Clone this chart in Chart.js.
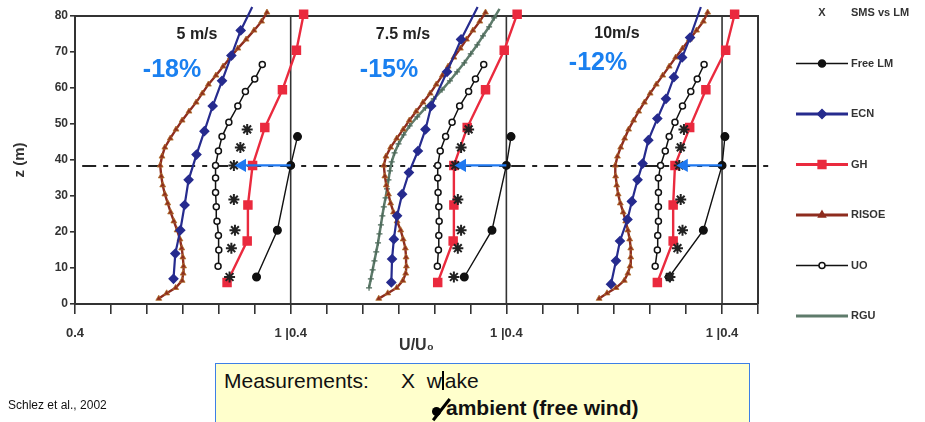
<!DOCTYPE html>
<html><head><meta charset="utf-8">
<script src="https://cdn.jsdelivr.net/npm/chart.js@4.4.0/dist/chart.umd.min.js"></script>
<style>
html,body{margin:0;padding:0;background:#fff;}
#wrap{position:relative;width:925px;height:422px;overflow:hidden;}
#c{position:absolute;left:0;top:0;}
.t{position:absolute;white-space:nowrap;font-family:"Liberation Sans",Arial,sans-serif;color:#111;}
#box{position:absolute;left:215px;top:363px;width:535px;height:80px;background:#ffffcc;border:1.5px solid #3d7fe6;box-sizing:border-box;}
</style></head>
<body><div id="wrap">
<canvas id="c" width="925" height="422"></canvas>
<div id="box"></div>
<div class="t" style="left:224px;top:369px;font-size:21px;">Measurements:</div>
<div class="t" style="left:401px;top:369px;font-size:21px;">X&nbsp;&nbsp;w<span style="display:inline-block;width:2px;height:19px;background:#000;vertical-align:-2px;margin:0 1px 0 0;"></span>ake</div>
<div style="position:absolute;left:432px;top:407px;width:9px;height:9px;border-radius:50%;background:#000;"></div>
<div style="position:absolute;left:440px;top:396px;width:2.5px;height:27px;background:#000;transform:rotate(38deg);"></div>
<div class="t" style="left:446px;top:396px;font-size:21px;font-weight:bold;">ambient (free wind)</div>
<div class="t" style="left:8px;top:398px;font-size:12px;">Schlez et al., 2002</div>
</div>
<script>
// ---------- data ----------
const panelTitles = ['5 m/s', '7.5 m/s', '10m/s'];
const deficits = ['-18%', '-15%', '-12%'];
const legendNames = ['SMS vs LM', 'Free LM', 'ECN', 'GH', 'RISOE', 'UO', 'RGU'];
const yTicks = [0, 10, 20, 30, 40, 50, 60, 70, 80];

const freeZ = [7.5, 20.5, 38.5, 46.5];
const freeU5 = [0.905, 0.963, 1.0, 1.019];
const freeU75 = [0.883, 0.96, 1.0, 1.013];
const freeU10 = [0.853, 0.948, 1.0, 1.008];

const smsZ = [7.5, 15.5, 20.5, 29, 38.5, 43.5, 48.5];
const smsU5 = [0.83, 0.835, 0.845, 0.842, 0.842, 0.86, 0.879];
const smsU75 = [0.854, 0.865, 0.874, 0.865, 0.858, 0.874, 0.895];
const smsU10 = [0.855, 0.876, 0.89, 0.885, 0.881, 0.885, 0.894];

const ghZ = [6, 17.5, 27.5, 38.5, 49, 59.5, 70.5, 80.5];
const ghU5 = [0.823, 0.879, 0.881, 0.894, 0.928, 0.977, 1.016, 1.036];
const ghU75 = [0.809, 0.852, 0.854, 0.854, 0.891, 0.942, 0.994, 1.03];
const ghU10 = [0.82, 0.864, 0.864, 0.869, 0.91, 0.955, 1.01, 1.035];

const uoZ = [10.5, 15, 19, 23, 27, 31, 35, 38.5, 42.5, 46.5, 50.5, 55, 59, 62.5, 66.5];
const uoU5 = [0.798, 0.8, 0.799, 0.795, 0.793, 0.791, 0.791, 0.791, 0.799, 0.809, 0.828, 0.853, 0.874, 0.9, 0.921];
const uoU75 = [0.808, 0.811, 0.812, 0.813, 0.812, 0.81, 0.809, 0.809, 0.816, 0.831, 0.849, 0.87, 0.895, 0.914, 0.937];
const uoU10 = [0.814, 0.82, 0.821, 0.823, 0.823, 0.823, 0.823, 0.829, 0.842, 0.853, 0.869, 0.89, 0.913, 0.931, 0.95];

const ecnZ5 = [7, 14, 20.5, 27.5, 34.5, 41.5, 48, 55, 62, 69, 76, 82.5];
const ecnU5 = [0.674, 0.679, 0.693, 0.705, 0.716, 0.738, 0.76, 0.783, 0.809, 0.835, 0.861, 0.893];
const ecnZ75 = [6, 12.5, 18, 24.5, 30.5, 36.5, 42.5, 48.5, 55, 64.5, 73.5, 82.5];
const ecnU75 = [0.68, 0.682, 0.687, 0.696, 0.71, 0.729, 0.754, 0.775, 0.791, 0.835, 0.874, 0.92];
const ecnZ10 = [5.5, 12, 17.5, 23.5, 28.5, 34.5, 39, 45.5, 51.5, 57, 63, 68.5, 74, 82.5];
const ecnU10 = [0.691, 0.705, 0.716, 0.737, 0.749, 0.765, 0.779, 0.795, 0.82, 0.844, 0.866, 0.889, 0.911, 0.941];

const risoeZ = [1.5, 3, 4.5, 6.5, 8.5, 10.5, 13, 15.5, 18, 20.5, 23, 25.5, 28, 30.5, 33, 35.5, 38.5, 41, 43.5, 46, 48.5, 51, 53.5, 56, 58.5, 61, 63.5, 66, 68.5, 71, 73.5, 76, 78.5, 81];
const risoeU5 = [0.633, 0.655, 0.68, 0.698, 0.701, 0.702, 0.7, 0.697, 0.692, 0.684, 0.675, 0.666, 0.658, 0.65, 0.644, 0.64, 0.637, 0.642, 0.65, 0.665, 0.681, 0.698, 0.717, 0.737, 0.754, 0.771, 0.792, 0.812, 0.832, 0.853, 0.876, 0.898, 0.919, 0.934];
const risoeU75 = [0.645, 0.67, 0.695, 0.712, 0.72, 0.722, 0.721, 0.719, 0.713, 0.706, 0.696, 0.686, 0.678, 0.672, 0.666, 0.662, 0.659, 0.665, 0.678, 0.695, 0.713, 0.73, 0.749, 0.768, 0.788, 0.805, 0.822, 0.838, 0.854, 0.872, 0.889, 0.907, 0.926, 0.942];
const risoeU10 = [0.658, 0.68, 0.705, 0.728, 0.738, 0.744, 0.746, 0.746, 0.743, 0.738, 0.732, 0.725, 0.717, 0.711, 0.707, 0.704, 0.703, 0.709, 0.718, 0.729, 0.74, 0.754, 0.768, 0.784, 0.8, 0.817, 0.835, 0.853, 0.871, 0.89, 0.909, 0.929, 0.948, 0.96];

const rguZ = [4.5, 7, 9.5, 12, 14.5, 17, 19.5, 22, 24.5, 27, 29.5, 32, 34.5, 37, 39.5, 42, 44.5, 47, 49.5, 52, 54.5, 57, 59.5, 62, 64.5, 67, 69.5, 72, 74.5, 77, 79.5, 82];
const rguU75 = [0.618, 0.623, 0.628, 0.633, 0.638, 0.643, 0.647, 0.651, 0.655, 0.659, 0.664, 0.668, 0.672, 0.676, 0.681, 0.689, 0.7, 0.714, 0.731, 0.752, 0.775, 0.798, 0.821, 0.843, 0.863, 0.883, 0.901, 0.919, 0.935, 0.952, 0.966, 0.981];

const hubZ = 38.5;
const arrowU = [[1.0, 0.865], [1.0, 0.877], [1.0, 0.894]];
const refLineZ = 38.3;

// ---------- build ----------
const OFF = [0, 0.6, 1.2];
const pts = (zs, us, k) => zs.map((z, i) => ({x: OFF[k] + us[i] - 0.4, y: z}));
const C = {free:'#111111', ecn:'#262b8e', gh:'#ea2a3e', risoe:'#8e2c1e', uo:'#111111', rgu:'#5e7b6b', sms:'#222222', arrow:'#1f78f0', pct:'#1a80f0'};

const ds = [];
for (let k = 0; k < 3; k++) {
  ds.push({data: pts([hubZ, hubZ], arrowU[k], k), showLine: true, borderColor: C.arrow, borderWidth: 2.2,
    pointRadius: [0, 5.5], pointStyle: 'triangle', pointRotation: 270, pointBackgroundColor: C.arrow, pointBorderColor: C.arrow, clip: false});
}
const sms = [smsU5, smsU75, smsU10];
for (let k = 0; k < 3; k++) ds.push({data: pts(smsZ, sms[k], k), showLine: false, pointStyle: 'star', pointRadius: 5.5, pointBorderWidth: 2, pointBorderColor: C.sms, clip: false});
const free = [freeU5, freeU75, freeU10];
for (let k = 0; k < 3; k++) ds.push({data: pts(freeZ, free[k], k), showLine: true, borderColor: C.free, borderWidth: 1.4, pointStyle: 'circle', pointRadius: 3.8, pointBackgroundColor: C.free, pointBorderColor: C.free, clip: false});
const gh = [ghU5, ghU75, ghU10];
for (let k = 0; k < 3; k++) ds.push({data: pts(ghZ, gh[k], k), showLine: true, borderColor: C.gh, borderWidth: 2.4, pointStyle: 'rect', pointRadius: 5, pointBackgroundColor: C.gh, pointBorderColor: C.gh, clip: false});
const uo = [uoU5, uoU75, uoU10];
for (let k = 0; k < 3; k++) ds.push({data: pts(uoZ, uo[k], k), showLine: true, borderColor: C.uo, borderWidth: 1.5, pointStyle: 'circle', pointRadius: 3, pointBorderWidth: 1.5, pointBackgroundColor: '#ffffff', pointBorderColor: C.uo, clip: false});
const ecnZ = [ecnZ5, ecnZ75, ecnZ10], ecnU = [ecnU5, ecnU75, ecnU10];
for (let k = 0; k < 3; k++) ds.push({data: pts(ecnZ[k], ecnU[k], k), showLine: true, borderColor: C.ecn, borderWidth: 2.2, pointStyle: 'rectRot',
  pointRadius: c => (c.raw && c.raw.y > 81) ? 0 : 3.8, pointBackgroundColor: C.ecn, pointBorderColor: C.ecn, clip: false});
const ris = [risoeU5, risoeU75, risoeU10];
for (let k = 0; k < 3; k++) ds.push({data: pts(risoeZ, ris[k], k), showLine: true, borderColor: C.risoe, borderWidth: 2.4, pointStyle: 'triangle', pointRadius: 3.4, pointBorderWidth: 0.8, pointBackgroundColor: C.risoe, pointBorderColor: '#b0702c', clip: false});
ds.push({data: pts(rguZ, rguU75, 1), showLine: true, borderColor: C.rgu, borderWidth: 2.5, pointStyle: 'cross', pointRadius: 3, pointBorderWidth: 1.2, pointBorderColor: '#4d6a5a', clip: false});
ds.push({data: [{x: 0.02, y: refLineZ}, {x: 1.93, y: refLineZ}], showLine: true, borderColor: '#222', borderWidth: 2, borderDash: [14, 7, 5, 7], pointRadius: 0, clip: false});

const framePlugin = {
  id: 'frame',
  beforeDatasetsDraw(chart) {
    const {ctx, scales: {x, y}} = chart;
    ctx.save();
    ctx.strokeStyle = '#333';
    const top = y.getPixelForValue(80), bot = y.getPixelForValue(0);
    [0.6, 1.2, 1.8].forEach(v => { const px = x.getPixelForValue(v); ctx.lineWidth = 1.6; ctx.beginPath(); ctx.moveTo(px, bot); ctx.lineTo(px, top); ctx.stroke(); });
    ctx.lineWidth = 2;
    ctx.beginPath(); ctx.moveTo(x.getPixelForValue(0), top); ctx.lineTo(x.getPixelForValue(1.9), top); ctx.lineTo(x.getPixelForValue(1.9), bot); ctx.stroke();
    ctx.restore();
  }
};
const textPlugin = {
  id: 'texts',
  afterDraw(chart) {
    const {ctx} = chart;
    const tPos = [[197, 35], [403, 35], [617, 34]];
    const pPos = [[172, 70], [389, 70], [598, 63]];
    ctx.save();
    ctx.textAlign = 'center'; ctx.textBaseline = 'middle';
    ctx.fillStyle = '#222'; ctx.font = 'bold 16px "Liberation Sans", Arial, sans-serif';
    panelTitles.forEach((t, i) => ctx.fillText(t, tPos[i][0], tPos[i][1]));
    ctx.fillStyle = C.pct; ctx.font = 'bold 25px "Liberation Sans", Arial, sans-serif';
    deficits.forEach((t, i) => ctx.fillText(t, pPos[i][0], pPos[i][1]));
    ctx.restore();
  }
};
const legendPlugin = {
  id: 'legendBox',
  afterDraw(chart) {
    const {ctx} = chart;
    const styles = [null,
      {c: C.free, w: 1.5, ps: 'circle', r: 3.5, fill: C.free},
      {c: C.ecn, w: 3, ps: 'rectRot', r: 4.5, fill: C.ecn},
      {c: C.gh, w: 3, ps: 'rect', r: 5.5, fill: C.gh},
      {c: C.risoe, w: 3, ps: 'triangle', r: 4, fill: C.risoe},
      {c: C.uo, w: 1.5, ps: 'circle', r: 3, fill: '#fff'},
      {c: C.rgu, w: 3, ps: null}];
    ctx.save();
    ctx.font = 'bold 11px "Liberation Sans", Arial, sans-serif';
    ctx.textBaseline = 'middle';
    legendNames.forEach((name, i) => {
      const yy = 13 + i * 50.5;
      ctx.fillStyle = '#333'; ctx.textAlign = 'left';
      ctx.fillText(name, 851, yy);
      const s = styles[i];
      if (!s) { ctx.textAlign = 'center'; ctx.fillText('X', 822, yy); return; }
      ctx.strokeStyle = s.c; ctx.lineWidth = s.w;
      ctx.beginPath(); ctx.moveTo(796, yy); ctx.lineTo(848, yy); ctx.stroke();
      if (s.ps) {
        ctx.fillStyle = s.fill; ctx.strokeStyle = s.c; ctx.lineWidth = 1.5;
        Chart.helpers.drawPoint(ctx, {pointStyle: s.ps, radius: s.r, rotation: 0, borderWidth: 1.5}, 822, yy);
      }
    });
    ctx.restore();
  }
};

Chart.defaults.font.family = '"Liberation Sans", Arial, sans-serif';
new Chart(document.getElementById('c'), {
  type: 'scatter',
  data: {datasets: ds},
  options: {
    responsive: false, animation: false, events: [],
    layout: {padding: {left: 0, right: 167, top: 16, bottom: 0}},
    plugins: {legend: {display: false}, tooltip: {enabled: false}},
    scales: {
      x: {
        type: 'linear', min: 0, max: 1.9,
        afterFit: s => { s.height = 118; },
        afterBuildTicks: s => { s.ticks = Array.from({length: 20}, (_, i) => ({value: i / 10})); },
        grid: {drawOnChartArea: false, drawTicks: true, tickLength: 10, color: '#333', lineWidth: 1.6},
        border: {display: true, color: '#333', width: 2},
        ticks: {autoSkip: false, maxRotation: 0, minRotation: 0, padding: 12, color: '#333', font: {size: 13, weight: 'bold'},
          callback: v => { const i = Math.round(v * 10); return i === 0 ? '0.4' : (i % 6 === 0 ? '1 |0.4' : ''); }},
        title: {display: true, text: 'U/U\u2080', color: '#333', font: {size: 16, weight: 'bold'}, padding: {top: 0, bottom: 67}}
      },
      y: {
        type: 'linear', min: 0, max: 80,
        afterFit: s => { s.width = 75; },
        afterBuildTicks: s => { s.ticks = yTicks.map(v => ({value: v})); },
        grid: {drawOnChartArea: false, drawTicks: true, tickLength: 5, color: '#333', lineWidth: 1.6},
        border: {display: true, color: '#333', width: 2},
        ticks: {padding: 2, color: '#333', font: {size: 12, weight: 'bold'}},
        title: {display: true, text: 'z (m)', color: '#333', font: {size: 15, weight: 'bold'}, padding: {top: 11, bottom: 0}}
      }
    }
  },
  plugins: [framePlugin, textPlugin, legendPlugin]
});
</script>
</body></html>
